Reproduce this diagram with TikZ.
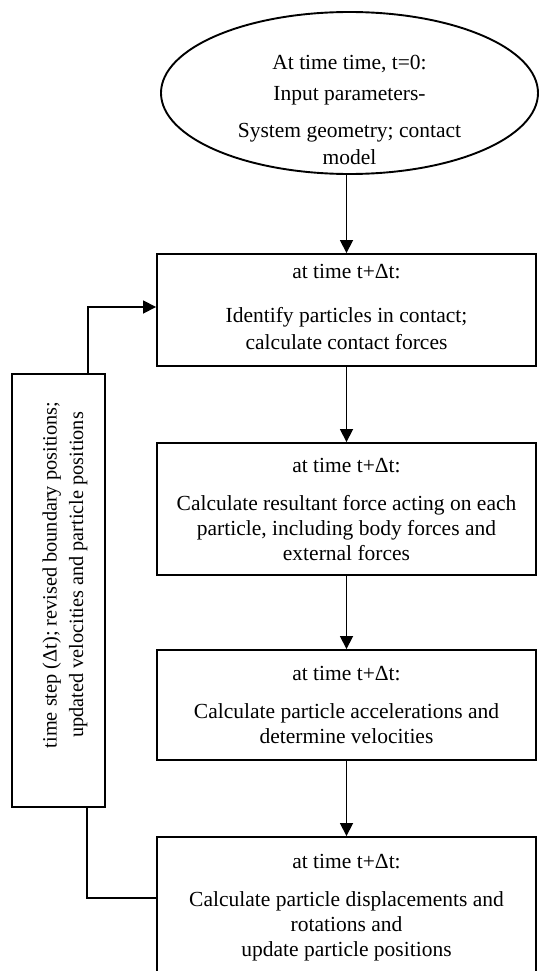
\documentclass[tikz,border=0pt]{standalone}
\usepackage{fontspec}
\setmainfont{Liberation Serif}
\usetikzlibrary{shapes.geometric,arrows.meta}
\begin{document}
\begin{tikzpicture}[x=1pt,y=-1pt,
  box/.style={draw, line width=1.9pt, minimum width=379pt, inner sep=0pt, align=center, font=\fontsize{21.5}{25}\selectfont},
  conn/.style={line width=1.7pt},
  arr/.style={conn, -{Triangle[length=13pt,width=13pt]}},
  txt/.style={align=center, inner sep=0pt, font=\fontsize{21.5}{25}\selectfont}]
\useasboundingbox (0,0) rectangle (538,971);

\node[draw, ellipse, line width=1.9pt, minimum width=377pt, minimum height=162pt, inner sep=0pt] (start) at (349.5,93) {};
\node[txt] (starttext) at (349.5,109.5) {At time time, t=0:\\[6pt]Input parameters-\\[12pt]System geometry; contact\\[2pt]model};

\node[box, minimum height=112pt] (box1) at (346.5,310) {at time t+Δt:\\[19pt]Identify particles in contact;\\[2pt]calculate contact forces\rule[-6pt]{0pt}{6pt}};
\node[box, minimum height=132pt] (box2) at (346.5,509) {at time t+Δt:\\[13pt]Calculate resultant force acting on each\\particle, including body forces and\\external forces};
\node[box, minimum height=110pt] (box3) at (346.5,705) {at time t+Δt:\\[13pt]Calculate particle accelerations and\\determine velocities};
\node[box, minimum height=141pt] (box4) at (346.5,907.5) {at time t+Δt:\\[13pt]Calculate particle displacements and\\rotations and\\update particle positions};

\node[draw, line width=1.9pt, minimum width=93pt, minimum height=433pt, inner sep=0pt] (fbox) at (58.5,590.5) {};
\node[txt, rotate=90, font=\fontsize{20.3}{26.5}\selectfont] (fbtext) at (65,575) {time step (Δt); revised boundary positions;\\updated velocities and particle positions};

\coordinate (c1) at (87,898);
\coordinate (c2) at (88,307);

\draw[arr] (start.south -| box1.north) -- (box1.north);
\draw[arr] (box1.south) -- (box2.north);
\draw[arr] (box2.south) -- (box3.north);
\draw[arr] (box3.south) -- (box4.north);
\draw[conn] (box4.west |- c1) -- (c1) -- (fbox.south -| c1);
\draw[arr] (fbox.north -| c2) -- (c2) -- (box1.west |- c2);
\end{tikzpicture}
\end{document}
